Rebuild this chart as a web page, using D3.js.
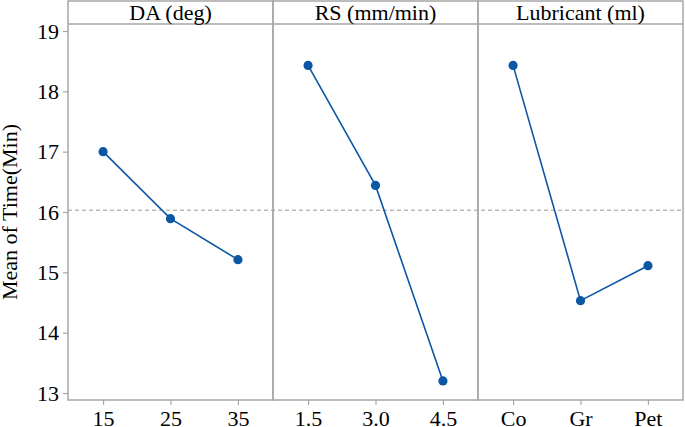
<!DOCTYPE html>
<meta charset="utf-8">
<script src="https://d3js.org/d3.v7.min.js"></script>
<style>
    body { margin: 0; background: #fff; }
    text { font-family: "Liberation Serif", "Times New Roman", serif; fill: #000; }
</style>
<body>
</body>
<script>
    // factors (panel titles), levels and main-effect means
    var factors = ["DA (deg)", "RS (mm/min)", "Lubricant (ml)"];
    var levels = [["15", "25", "35"], ["1.5", "3.0", "4.5"], ["Co", "Gr", "Pet"]];
    var means = [[17.00, 15.89, 15.21], [18.43, 16.44, 13.20], [18.43, 14.53, 15.11]];
    var yTicks = [13, 14, 15, 16, 17, 18, 19];
    var grandMean = 16.03;

    var margin = {top: 1, right: 2, bottom: 27, left: 68},
        width = 685 - margin.left - margin.right,
        height = 427 - margin.top - margin.bottom,
        stripH = 23;

    var frameColor = "#a6a6a6",
        lineColor = "#0b57a4",
        serif = "'Liberation Serif', 'Times New Roman', serif";

    var svg = d3.select("body")
        .append("svg")
            .attr("width", width + margin.left + margin.right)
            .attr("height", height + margin.top + margin.bottom)
        .append("g")
            .attr("transform", "translate(" + margin.left + "," + margin.top + ")");

    var panelW = width / factors.length;

    var y = d3.scaleLinear()
        .domain([12.884, 19.116])
        .range([height, stripH]);

    // y axis
    var yAxis = svg.append("g")
        .call(d3.axisLeft(y).tickValues(yTicks).tickSize(5).tickPadding(4).tickFormat(d3.format("d")))
        .attr("font-family", serif)
        .attr("font-size", 22);
    yAxis.select(".domain").remove();
    yAxis.selectAll("line").attr("stroke", frameColor).attr("stroke-width", 1.2);

    svg.append("text")
        .attr("transform", "translate(" + (17 - margin.left) + "," + ((height + stripH) / 2) + ") rotate(-90)")
        .attr("text-anchor", "middle")
        .style("font-size", "22px")
        .text("Mean of Time(Min)");

    // grand mean reference line
    svg.append("line")
        .attr("x1", 0).attr("x2", width)
        .attr("y1", y(grandMean)).attr("y2", y(grandMean))
        .attr("stroke", "#999")
        .attr("stroke-width", 1)
        .attr("stroke-dasharray", "4,3");

    factors.forEach(function(f, i) {
        var g = svg.append("g")
            .attr("transform", "translate(" + (i * panelW) + ",0)");

        var x = d3.scalePoint()
            .domain(levels[i])
            .range([0, panelW])
            .padding(0.52);

        var xAxis = g.append("g")
            .attr("transform", "translate(0," + height + ")")
            .call(d3.axisBottom(x).tickSize(5).tickPadding(5))
            .attr("font-family", serif)
            .attr("font-size", 22);
        xAxis.select(".domain").remove();
        xAxis.selectAll("line").attr("stroke", frameColor).attr("stroke-width", 1.2);

        var pts = levels[i].map(function(l, j) { return [l, means[i][j]]; });

        g.append("path")
            .datum(pts)
            .attr("fill", "none")
            .attr("stroke", lineColor)
            .attr("stroke-width", 1.6)
            .attr("d", d3.line()
                .x(function(d) { return x(d[0]); })
                .y(function(d) { return y(d[1]); }));

        g.selectAll("circle")
            .data(pts)
            .enter()
            .append("circle")
                .attr("cx", function(d) { return x(d[0]); })
                .attr("cy", function(d) { return y(d[1]); })
                .attr("r", 4.6)
                .attr("fill", lineColor);

        // panel frame and title strip
        g.append("rect")
            .attr("x", 0).attr("y", 0)
            .attr("width", panelW).attr("height", height)
            .attr("fill", "none")
            .attr("stroke", frameColor)
            .attr("stroke-width", 1.5);
        g.append("line")
            .attr("x1", 0).attr("x2", panelW)
            .attr("y1", stripH).attr("y2", stripH)
            .attr("stroke", frameColor)
            .attr("stroke-width", 1.5);
        g.append("text")
            .attr("x", panelW / 2)
            .attr("y", stripH - 4)
            .attr("text-anchor", "middle")
            .style("font-size", "22px")
            .text(f);
    });
</script>
